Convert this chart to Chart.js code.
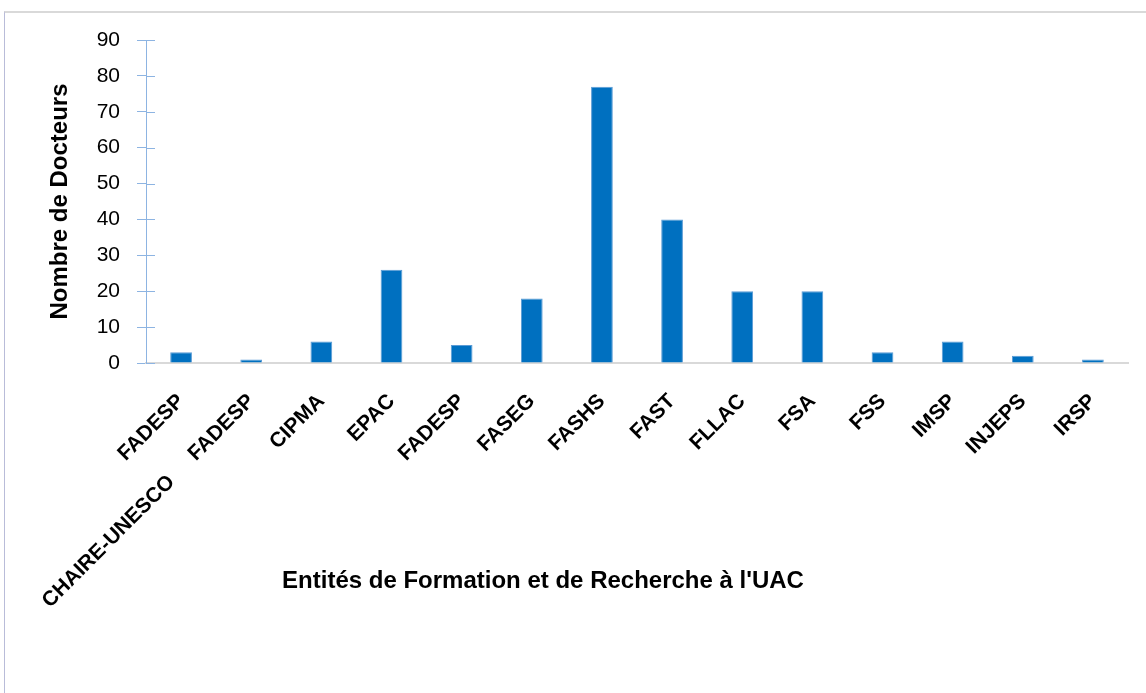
<!DOCTYPE html>
<html>
<head>
<meta charset="utf-8">
<script src="https://cdn.jsdelivr.net/npm/chart.js@4.4.0/dist/chart.umd.min.js"></script>
<style>
  html, body { margin: 0; padding: 0; background: #fff; }
  #frame { position: absolute; left: 4px; top: 11px; width: 1142px; height: 682px;
           border-top: 2px solid #d9d9d9; border-left: 1px solid #b9bcd9; box-sizing: border-box; }
  #wrap { position: absolute; left: 0; top: 0; width: 1146px; height: 693px; }
</style>
</head>
<body>
<div id="frame"></div>
<div id="wrap"><canvas id="barChart"></canvas></div>
<script>
// categories (first one is a two-line label, spaced like the original)
var entites = [
  ['FADESP', '', 'CHAIRE-UNESCO           '],
  'FADESP', 'CIPMA', 'EPAC', 'FADESP', 'FASEG', 'FASHS',
  'FAST', 'FLLAC', 'FSA', 'FSS', 'IMSP', 'INJEPS', 'IRSP'
];
var docteurs = [3, 1, 6, 26, 5, 18, 77, 40, 20, 20, 3, 6, 2, 1];
var yTicks = [0, 10, 20, 30, 40, 50, 60, 70, 80, 90];
var xTitle = "Entités de Formation et de Recherche à l'UAC";

var fontFam = "'Liberation Sans', Arial, sans-serif";
var axisBlue = '#8db4e2';

// small marks crossing the value axis (inner half) + x axis title
var extras = {
  id: 'extras',
  afterDraw: function (chart) {
    var y = chart.scales.y, ctx = chart.ctx, area = chart.chartArea;
    ctx.save();
    ctx.strokeStyle = axisBlue;
    ctx.lineWidth = 1;
    y.ticks.forEach(function (t) {
      var py = Math.round(y.getPixelForValue(t.value)) + 0.5;
      ctx.beginPath();
      ctx.moveTo(y.right, py);
      ctx.lineTo(y.right + 9, py);
      ctx.stroke();
    });
    // the original title sits left of the plot centre
    ctx.fillStyle = '#000';
    ctx.font = 'bold 24px ' + fontFam;
    ctx.textAlign = 'center';
    ctx.textBaseline = 'alphabetic';
    ctx.fillText(xTitle, area.left + 397, area.bottom + 225);
    ctx.restore();
  }
};

var ctx = document.getElementById('barChart').getContext('2d');
var myBarChart = new Chart(ctx, {
  type: 'bar',
  data: {
    labels: entites,
    datasets: [{
      label: 'Nombre de Docteurs',
      data: docteurs,
      backgroundColor: '#0070c0',
      borderColor: '#5b9bd5',
      borderWidth: 1,
      borderSkipped: 'bottom',
      categoryPercentage: 1,
      barPercentage: 0.31
    }]
  },
  options: {
    responsive: true,
    maintainAspectRatio: false,
    animation: false,
    layout: { padding: { left: 42, top: 40, right: 18, bottom: 60 } },
    plugins: {
      legend: { display: false },
      tooltip: { enabled: false }
    },
    scales: {
      x: {
        grid: { display: false, drawTicks: false },
        border: { display: true, color: '#d9d9d9', width: 2 },
        ticks: {
          minRotation: 45,
          maxRotation: 45,
          autoSkip: false,
          padding: 26,
          color: '#000',
          font: { family: fontFam, size: 21, weight: 'bold' }
        },
        afterFit: function (scale) {
          scale.height = 270;
          scale.paddingLeft = 0;
          scale.paddingRight = 0;
        }
      },
      y: {
        min: 0,
        max: 90,
        afterBuildTicks: function (scale) {
          scale.ticks = yTicks.map(function (v) { return { value: v }; });
        },
        grid: { display: true, drawOnChartArea: false, drawTicks: true, tickLength: 9, color: axisBlue },
        border: { display: true, color: axisBlue, width: 1 },
        ticks: {
          padding: 17,
          color: '#000',
          font: { family: fontFam, size: 21 }
        },
        title: {
          display: true,
          text: 'Nombre de Docteurs',
          color: '#000',
          font: { family: fontFam, size: 24, weight: 'bold' }
        },
        afterFit: function (scale) {
          scale.width = 104;
        }
      }
    }
  },
  plugins: [extras]
});
</script>
</body>
</html>
